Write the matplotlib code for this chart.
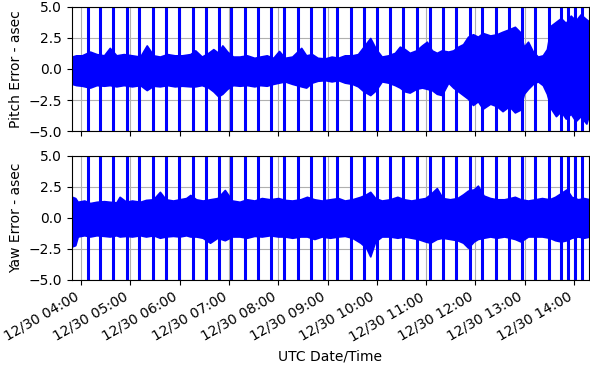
import datetime as dt
import matplotlib
matplotlib.use("Agg")
import matplotlib.pyplot as plt
import matplotlib.dates as mdates
import numpy as np

# times are minutes after 12/30 04:00 UTC
day0 = dt.datetime(2019, 12, 30, 4, 0)

# pitch error envelope (asec)
pitch_min = [-11, -6, 1, 11, 19, 28, 35, 43, 52, 62, 72, 80, 88, 96, 105, 114,
             123, 133, 139, 147, 155, 161, 167, 172, 178, 185, 193, 202, 211,
             218, 226, 234, 241, 248, 257, 268, 274, 281, 288, 297, 305, 313,
             321, 330, 337, 344, 352, 359, 366, 374, 382, 388, 394, 400, 408,
             415, 421, 427, 433, 439, 447, 453, 459, 465, 471, 477, 483, 489,
             498, 506, 513, 521, 528, 534, 539, 544, 550, 556, 562, 567, 572,
             578, 584, 590, 596, 602, 608, 615, 619]
pitch_hi = [1.0, 1.1, 1.1, 1.4, 1.2, 1.1, 1.7, 1.1, 1.2, 1.1, 1.0, 1.9, 1.1, 1.0,
            1.2, 1.1, 1.1, 1.2, 1.5, 1.0, 1.3, 1.6, 1.3, 1.9, 1.4, 1.0, 1.0, 1.1,
            0.9, 1.0, 1.1, 0.9, 1.45, 0.9, 1.0, 1.7, 1.1, 1.2, 0.9, 0.85, 1.0,
            0.9, 1.1, 1.1, 1.2, 1.8, 2.5, 1.6, 1.0, 1.1, 1.3, 1.8, 1.6, 1.3, 1.5,
            1.9, 2.2, 1.5, 1.3, 1.5, 1.4, 1.5, 1.8, 2.0, 2.6, 2.8, 2.6, 2.9, 2.7,
            2.8, 3.0, 3.2, 3.4, 3.0, 1.8, 2.2, 1.4, 1.0, 1.1, 1.6, 3.5, 3.8, 4.1,
            3.7, 4.3, 3.9, 4.4, 4.0, 3.8]
pitch_lo = [-1.2, -1.3, -1.35, -1.5, -1.3, -1.35, -1.3, -1.4, -1.3, -1.4, -1.3,
            -1.7, -1.35, -1.4, -1.3, -1.4, -1.35, -1.4, -1.4, -1.3, -1.5, -1.8,
            -2.2, -2.0, -1.6, -1.3, -1.35, -1.3, -1.4, -1.3, -1.35, -1.2, -1.1,
            -1.0, -1.2, -1.4, -1.5, -1.1, -0.95, -0.9, -1.0, -0.9, -1.1, -1.2,
            -1.4, -1.8, -2.1, -1.7, -1.0, -1.1, -1.3, -1.5, -1.8, -1.9, -1.6,
            -1.5, -1.6, -1.7, -2.0, -2.1, -1.1, -1.5, -1.8, -2.1, -2.4, -2.9,
            -2.6, -3.2, -2.8, -3.0, -3.4, -3.0, -3.5, -3.3, -2.0, -1.6, -1.2,
            -1.0, -1.3, -2.0, -3.2, -3.8, -3.4, -4.0, -3.6, -4.2, -3.8, -4.4,
            -3.5]

# yaw error envelope (asec)
yaw_min = [-11, -7, -4, 4, 11, 19, 28, 35, 43, 47, 55, 62, 72, 79, 88, 96, 103,
           112, 120, 128, 133, 140, 148, 157, 166, 175, 184, 193, 202, 211, 220,
           230, 240, 248, 257, 267, 275, 284, 293, 303, 313, 321, 330, 340, 347,
           352, 358, 366, 376, 385, 393, 402, 410, 419, 425, 433, 440, 449, 458,
           465, 471, 478, 483, 490, 498, 506, 515, 522, 528, 535, 544, 553, 561,
           570, 577, 584, 591, 597, 605, 612, 619]
yaw_hi = [1.7, 1.6, 1.3, 1.4, 1.2, 1.3, 1.35, 1.3, 1.25, 1.7, 1.3, 1.4, 1.3,
          1.45, 1.5, 2.1, 1.5, 1.4, 1.5, 1.6, 1.85, 1.5, 1.4, 1.5, 1.6, 2.25,
          1.4, 1.3, 1.5, 1.4, 1.6, 1.5, 1.6, 1.45, 1.4, 1.5, 1.7, 1.5, 1.4, 1.5,
          1.6, 1.4, 1.5, 1.7, 1.9, 2.1, 1.6, 1.4, 1.5, 1.7, 1.5, 1.4, 1.5, 1.6,
          1.9, 2.4, 1.6, 1.5, 1.6, 1.9, 2.2, 2.3, 2.6, 1.8, 1.6, 1.5, 1.5, 1.6,
          1.7, 1.5, 1.4, 1.5, 1.6, 1.5, 1.7, 2.0, 2.3, 1.7, 1.5, 1.6, 1.5]
yaw_lo = [-2.3, -2.2, -1.5, -1.4, -1.5, -1.4, -1.45, -1.5, -1.4, -1.5, -1.45,
          -1.5, -1.4, -1.5, -1.4, -1.6, -1.5, -1.45, -1.5, -1.4, -1.5, -1.5,
          -1.6, -2.0, -1.6, -1.8, -1.5, -1.5, -1.6, -1.45, -1.5, -1.4, -1.5,
          -1.5, -1.6, -1.5, -1.5, -1.7, -1.5, -1.6, -1.5, -1.45, -1.6, -2.0,
          -2.4, -3.1, -1.9, -1.5, -1.5, -1.6, -1.5, -1.6, -1.7, -1.9, -2.0,
          -1.7, -1.6, -1.7, -1.8, -2.0, -2.4, -1.9, -1.7, -1.6, -1.5, -1.6,
          -1.5, -1.6, -1.7, -1.9, -1.5, -1.5, -1.5, -1.6, -1.8, -1.9, -1.8,
          -1.6, -1.5, -1.6, -1.5]

# large excursions (off scale), minutes after 04:00
spike_min = [8, 23, 39, 56, 71, 87, 103, 119, 136, 152, 168, 183, 200, 215, 231,
             247, 264, 280, 296, 312, 328, 344, 360, 376, 392, 409, 425, 441,
             456, 473, 488, 505, 521, 537, 553, 569, 584, 593, 601, 610]

xlim_min = [-11, 618]


def to_dates(mins):
    return [day0 + dt.timedelta(minutes=float(m)) for m in mins]


fig = plt.figure(figsize=(5.9, 3.65), dpi=100)
ax1 = fig.add_axes([0.122, 0.641, 0.876, 0.340])
ax2 = fig.add_axes([0.122, 0.233, 0.876, 0.340], sharex=ax1)

panels = [(ax1, pitch_min, pitch_hi, pitch_lo, 'Pitch Error - asec'),
          (ax2, yaw_min, yaw_hi, yaw_lo, 'Yaw Error - asec')]

for ax, tm, hi, lo, label in panels:
    t = to_dates(tm)
    ax.fill_between(t, lo, hi, color='blue', linewidth=1.2, edgecolor='blue')
    ax.vlines(to_dates(spike_min), -8, 8, color='blue', linewidth=2.2)
    ax.set_ylim(-5, 5)
    ax.set_yticks([-5, -2.5, 0, 2.5, 5])
    ax.set_yticklabels(['\u22125.0', '\u22122.5', '0.0', '2.5', '5.0'])
    ax.set_ylabel(label)
    ax.set_axisbelow(True)
    ax.grid(True, color='#b0b0b0', linewidth=0.8)

ax1.set_xlim(to_dates(xlim_min))
ax2.xaxis.set_major_locator(mdates.HourLocator())
ax2.xaxis.set_major_formatter(mdates.DateFormatter('%m/%d %H:%M'))
plt.setp(ax1.get_xticklabels(), visible=False)
plt.setp(ax2.get_xticklabels(), rotation=30, ha='right')
ax2.set_xlabel('UTC Date/Time')

fig.savefig('out.png', dpi=100)
